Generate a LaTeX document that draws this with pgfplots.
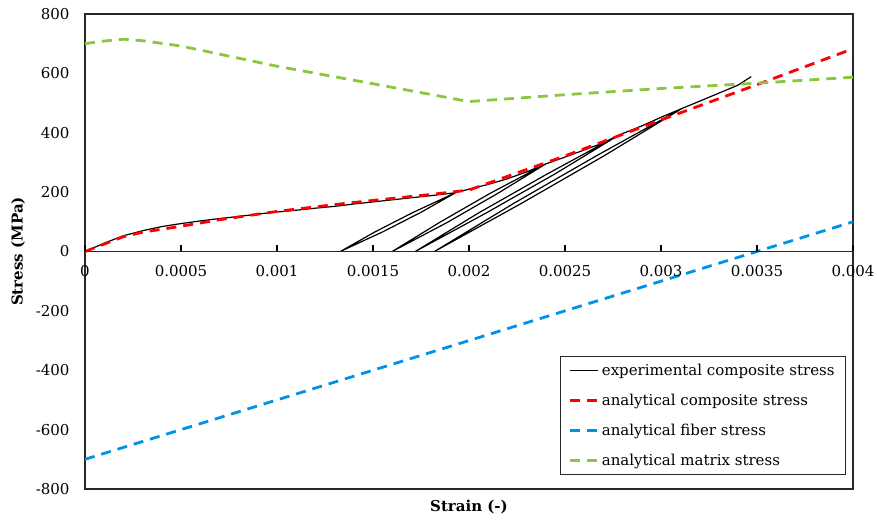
\documentclass[border=0pt]{standalone}
\usepackage{fontspec}
\setmainfont{DejaVu Serif}
\usepackage{pgfplots}
\pgfplotsset{compat=1.18}
\definecolor{cred}{RGB}{255,0,0}
\definecolor{cblue}{RGB}{0,146,230}
\definecolor{cgreen}{RGB}{140,198,63}
\definecolor{framec}{RGB}{40,40,40}
\begin{document}
\begin{tikzpicture}
\begin{axis}[scale only axis, width=768bp, height=475bp, xmin=0, xmax=0.004, ymin=-800, ymax=800,
  axis line style={framec, line width=1.1bp},
  xtick=\empty,
  ytick={-800,-600,-400,-200,0,200,400,600,800},
  yticklabels={-800,-600,-400,-200,0,200,400,600,800},
  y tick label style={font=\fontsize{15bp}{18bp}\selectfont, xshift=-12bp},
  major tick length=0pt,
  ylabel={Stress (MPa)},
  xlabel={Strain (-)},
  every axis y label/.style={at={(axis description cs:-0.0872,0.5)}, rotate=90, anchor=center, font=\bfseries\fontsize{15bp}{18bp}\selectfont},
  every axis x label/.style={at={(axis description cs:0.5,-0.0379)}, anchor=center, font=\bfseries\fontsize{15bp}{18bp}\selectfont},
  legend style={at={(0.991,0.029)}, anchor=south east, draw=framec, line width=1bp,
    font=\fontsize{15bp}{18bp}\selectfont, row sep=13bp, inner xsep=9bp, inner ysep=6bp},
  legend cell align=left,
  legend image code/.code={\draw[#1] (0bp,0bp) -- (28bp,0bp);},
]
\coordinate (zero) at (axis cs:0,0);
\addplot[black, line width=1.2bp] coordinates {
(0,0) (0.0001,28) (0.0002,53) (0.0003,70) (0.0004,84) (0.0005,94) (0.0006,103) (0.0007,111)
(0.0008,118) (0.0009,126) (0.001,133) (0.0011,139) (0.0012,146) (0.0013,152) (0.0014,160)
(0.0015,167) (0.0016,174) (0.0017,181) (0.0018,188) (0.00193,198)
(0.00175,132) (0.00155,66) (0.00133,0) (0.00151,66) (0.00171,132) (0.00193,198)
(0.002,210) (0.0021,226) (0.0022,245) (0.0023,268) (0.0024,295)
(0.002153,197) (0.001887,98) (0.0016,0) (0.001847,98) (0.002113,197) (0.0024,295)
(0.0025,318) (0.0026,342) (0.0027,366) (0.00278,392)
(0.002447,261) (0.002093,131) (0.00172,0) (0.002053,131) (0.002407,261) (0.00278,392)
(0.0029,423) (0.003,452) (0.00311,482)
(0.0027,321) (0.00227,161) (0.00182,0) (0.00223,161) (0.00266,321) (0.00311,482)
(0.0032,506) (0.0033,533) (0.0034,560) (0.00347,589)
};
\addlegendentry{experimental composite stress}
\addplot[cred, line width=2.8bp, dash pattern=on 10bp off 7bp] coordinates {
(0,0) (0.0001,25) (0.0002,50) (0.0003,65) (0.0005,85) (0.0007,107) (0.001,135) (0.0013,158)
(0.0015,172) (0.0018,192) (0.002,207) (0.0025,322) (0.003,443) (0.0035,562) (0.004,683)
};
\addlegendentry{analytical composite stress}
\addplot[cblue, line width=2.8bp, dash pattern=on 10bp off 7bp] coordinates {
(0,-700) (0.001,-500) (0.002,-300) (0.003,-100) (0.004,100)
};
\addlegendentry{analytical fiber stress}
\addplot[cgreen, line width=2.8bp, dash pattern=on 10bp off 7bp] coordinates {
(0,700) (0.0001,709) (0.0002,715) (0.0003,710) (0.0005,692) (0.001,624) (0.0015,565)
(0.002,505) (0.0025,528) (0.003,549) (0.0035,567) (0.004,587)
};
\addlegendentry{analytical matrix stress}
\end{axis}
\begin{axis}[scale only axis, width=768bp, height=237.5bp, xmin=0, xmax=0.004, ymin=0, ymax=800,
  at={(zero)}, anchor=south west,
  separate axis lines,
  y axis line style={draw=none},
  x axis line style={draw=framec, line width=1.1bp},
  ytick=\empty,
  xtick={0,0.0005,0.001,0.0015,0.002,0.0025,0.003,0.0035,0.004},
  xticklabels={0,0.0005,0.001,0.0015,0.002,0.0025,0.003,0.0035,0.004},
  scaled x ticks=false,
  xtick pos=bottom,
  tick align=inside,
  x tick label style={font=\fontsize{15bp}{18bp}\selectfont, yshift=-10bp, anchor=north},
  major tick length=6.5bp,
  every tick/.style={black, line width=1.3bp},
]
\end{axis}
\pgfresetboundingbox
\path ([shift={(-85bp,-270.5bp)}]zero) rectangle ([shift={(792bp,251.5bp)}]zero);
\end{tikzpicture}
\end{document}
